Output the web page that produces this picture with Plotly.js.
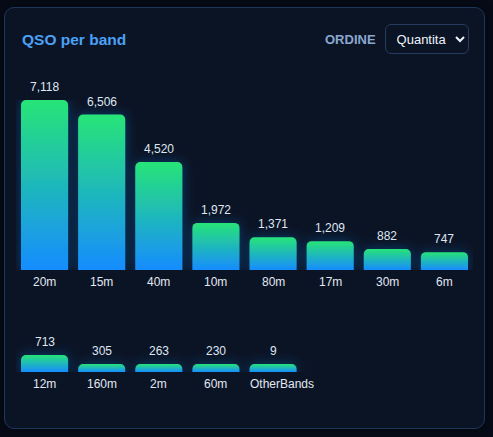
<!DOCTYPE html>
<html>
<head>
<meta charset="utf-8">
<script src="https://cdn.plot.ly/plotly-3.0.1.min.js"></script>
<style>
  html, body { margin: 0; padding: 0; background: #060b17; width: 493px; height: 437px; overflow: hidden; }
  .card {
    position: absolute; left: 4px; top: 7px; width: 479px; height: 420px;
    background: #0b1425; border: 1px solid #1f365c; border-radius: 10px;
    box-shadow: 0 0 10px rgba(0, 0, 0, 0.5);
  }
  #chart { position: absolute; left: 0; top: 0; width: 493px; height: 437px; }
  .controls {
    position: absolute; left: 325px; top: 24px; height: 30px;
    display: flex; align-items: center; z-index: 5;
  }
  .controls label {
    font: bold 13px "Liberation Sans", Arial, sans-serif; color: #8ba7cf;
    margin-right: 9px;
  }
  .controls select {
    color-scheme: dark;
    width: 84px; height: 30px; box-sizing: border-box;
    background: #0b1425; color: #eef3fb;
    border: 1px solid #263b60; border-radius: 6px;
    font: 13px "Liberation Sans", Arial, sans-serif; padding: 0 0 0 7px;
  }
</style>
</head>
<body>
<div class="card"></div>
<div id="chart"></div>
<div class="controls">
  <label for="order">ORDINE</label>
  <select id="order"><option>Quantita</option><option>Banda</option></select>
</div>
<script>
// QSO count per band, sorted by quantity
const bands = ['20m', '15m', '40m', '10m', '80m', '17m', '30m', '6m', '12m', '160m', '2m', '60m', 'OtherBands'];
const qso = [7118, 6506, 4520, 1972, 1371, 1209, 882, 747, 713, 305, 263, 230, 9];

const PER_ROW = 8;
const W = 493, H = 437;
const MARGIN_L = 16, MARGIN_R = 20;
const BARGAP = 0.175;
const ROW1_BOTTOM = 270, BAR_AREA = 170;      // px
const ROW2_BOTTOM = 372, ROW2_AREA = 72;      // px
const MIN_BAR_PX = 8;                          // smallest visible bar
const FONT = 'Liberation Sans, Arial, sans-serif';
const LABEL_SIZE = 12;

const ymax = Math.max(...qso);
const minShown = ymax * MIN_BAR_PX / BAR_AREA;
const shown = qso.map(v => Math.max(v, minShown));

const rows = [
  { x: bands.slice(0, PER_ROW), y: shown.slice(0, PER_ROW), v: qso.slice(0, PER_ROW), xa: 'x', ya: 'y' },
  { x: bands.slice(PER_ROW), y: shown.slice(PER_ROW), v: qso.slice(PER_ROW), xa: 'x2', ya: 'y2' }
];

const traces = rows.map(r => ({
  type: 'bar', x: r.x, y: r.y, xaxis: r.xa, yaxis: r.ya,
  marker: { color: '#1fb6bc', cornerradius: 5, line: { width: 0 } },
  hoverinfo: 'skip', showlegend: false
}));

// Band names sit under each bar; a name wider than its bar starts at the bar's left edge
const barPx = (W - MARGIN_L - MARGIN_R) / PER_ROW * (1 - BARGAP);
const measure = document.createElement('canvas').getContext('2d');
measure.font = LABEL_SIZE + 'px "Liberation Sans", Arial, sans-serif';

const annotations = [];
rows.forEach(r => r.x.forEach((b, i) => {
  annotations.push({
    xref: r.xa, yref: r.ya, x: b, y: r.y[i], text: r.v[i].toLocaleString('en-US'),
    showarrow: false, yanchor: 'middle', yshift: 13,
    font: { family: FONT, size: 12, color: '#dfe7f3' }
  });
  const wide = measure.measureText(b).width > barPx;
  annotations.push({
    xref: r.xa, yref: r.ya, x: b, y: 0, text: b,
    showarrow: false, yanchor: 'middle', yshift: -12,
    xanchor: wide ? 'left' : 'center', xshift: wide ? -barPx / 2 - 1 : 0,
    font: { family: FONT, size: LABEL_SIZE, color: '#e1e8f2' }
  });
}));

const frac = px => 1 - px / H;
const xaxisBase = {
  type: 'category', range: [-0.5, PER_ROW - 0.5], showgrid: false, zeroline: false,
  showline: false, ticks: '', showticklabels: false, fixedrange: true
};
const yaxisBase = { visible: false, showgrid: false, zeroline: false, fixedrange: true };

const layout = {
  width: W, height: H,
  margin: { l: MARGIN_L, r: MARGIN_R, t: 0, b: 0 },
  paper_bgcolor: 'rgba(0,0,0,0)', plot_bgcolor: 'rgba(0,0,0,0)',
  bargap: BARGAP,
  title: {
    text: 'QSO per band', xref: 'container', yref: 'container',
    x: 22 / W, xanchor: 'left', y: frac(40), yanchor: 'middle',
    font: { family: FONT, size: 15.5, weight: 'bold', color: '#4aa1f5' }
  },
  xaxis: Object.assign({}, xaxisBase, { anchor: 'y' }),
  xaxis2: Object.assign({}, xaxisBase, { anchor: 'y2' }),
  yaxis: Object.assign({}, yaxisBase, { domain: [frac(ROW1_BOTTOM), frac(ROW1_BOTTOM - BAR_AREA)], range: [0, ymax] }),
  yaxis2: Object.assign({}, yaxisBase, {
    domain: [frac(ROW2_BOTTOM), frac(ROW2_BOTTOM - ROW2_AREA)],
    range: [0, ymax * ROW2_AREA / BAR_AREA]
  }),
  annotations: annotations
};

const gd = document.getElementById('chart');

// Vertical green-to-blue fill on every bar plus a soft blue glow
function styleBars() {
  const svg = gd.querySelector('.main-svg');
  if (!svg) return;
  if (!svg.querySelector('#qsoGrad')) {
    const ns = 'http://www.w3.org/2000/svg';
    const defs = document.createElementNS(ns, 'defs');
    defs.innerHTML =
      '<linearGradient id="qsoGrad" x1="0" y1="0" x2="0" y2="1">' +
      '<stop offset="0" stop-color="#27e477"/><stop offset="1" stop-color="#178cff"/></linearGradient>' +
      '<filter id="qsoGlow" filterUnits="userSpaceOnUse" x="-1000" y="-1000" width="3000" height="3000">' +
      '<feDropShadow dx="0" dy="0" stdDeviation="6" flood-color="#1a8cff" flood-opacity="0.35"/></filter>';
    svg.insertBefore(defs, svg.firstChild);
  }
  gd.querySelectorAll('.barlayer .trace').forEach(g => g.setAttribute('filter', 'url(#qsoGlow)'));
  gd.querySelectorAll('.barlayer .point path').forEach(p => { p.style.fill = 'url(#qsoGrad)'; });
}

Plotly.newPlot(gd, traces, layout, { staticPlot: true, displayModeBar: false }).then(() => {
  styleBars();
  gd.on('plotly_afterplot', styleBars);
});
</script>
</body>
</html>
